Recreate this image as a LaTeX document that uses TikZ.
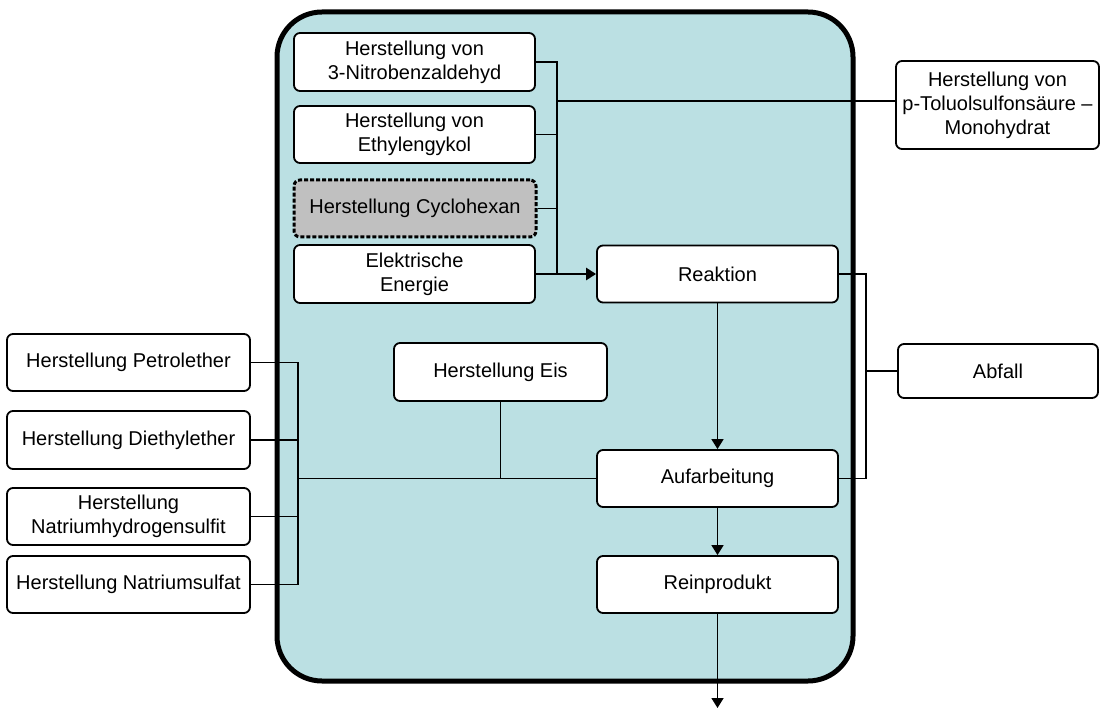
\documentclass[tikz,border=0pt]{standalone}
\usepackage{fontspec}
\setmainfont{Liberation Sans}
\usetikzlibrary{arrows.meta}
\definecolor{panel}{RGB}{187,224,227}
\definecolor{greybox}{RGB}{192,192,192}
\begin{document}
\begin{tikzpicture}[x=1pt,y=-1pt,
  box/.style={draw=black,line width=1.8pt,fill=white,rounded corners=6pt,
    inner sep=0pt,align=center,font=\fontsize{20}{24}\selectfont},
  conn/.style={draw=black,line width=1.6pt},
  flow/.style={conn,-{Triangle[length=10pt,width=12pt]}}]
\useasboundingbox (0,0) rectangle (1100,708);

% process frame
\draw[line width=5pt,fill=panel,rounded corners=45pt] (277,12) rectangle (853,681);

% inputs inside the frame
\node[box,minimum width=241,minimum height=58] (nitro) at (414.5,62) {Herstellung von\\3-Nitrobenzaldehyd};
\node[box,minimum width=241,minimum height=57] (ethyl) at (414.5,134.5) {Herstellung von\\Ethylengykol};
\node[box,minimum width=242,minimum height=57,fill=greybox,dashed,line width=3pt,dash pattern=on 4pt off 2pt] (cyclo) at (415,208.5) {Herstellung Cyclohexan};
\node[box,minimum width=241,minimum height=58] (elek) at (414.5,274) {Elektrische\\Energie};
\node[box,minimum width=213,minimum height=58] (eis) at (500.5,372) {Herstellung Eis};

% main steps
\node[box,minimum width=241,minimum height=57] (reakt) at (717.5,274) {Reaktion};
\node[box,minimum width=241,minimum height=57] (aufarb) at (717.5,478.5) {Aufarbeitung};
\node[box,minimum width=241,minimum height=57] (rein) at (717.5,584.5) {Reinprodukt};

% outside the frame, right
\node[box,minimum width=203,minimum height=88] (ptol) at (997.5,105) {Herstellung von\\p-Toluolsulfonsäure –\\Monohydrat};
\node[box,minimum width=200,minimum height=54] (abfall) at (998,371) {Abfall};

% outside the frame, left
\node[box,minimum width=243,minimum height=57] (petrol) at (128.5,362.5) {Herstellung Petrolether};
\node[box,minimum width=243,minimum height=58] (diethyl) at (128.5,440) {Herstellung Diethylether};
\node[box,minimum width=243,minimum height=57] (nahso) at (128.5,516.5) {Herstellung\\Natriumhydrogensulfit};
\node[box,minimum width=243,minimum height=57] (naso) at (128.5,584.5) {Herstellung Natriumsulfat};

% bus lines
\coordinate (topbus) at (557,0);
\coordinate (tolbus) at (557,101);
\coordinate (rbus) at (866,0);
\coordinate (lbus) at (298,0);
\coordinate (out) at (717.5,708);

% upper input bus
\draw[conn] (nitro.east) -- (nitro.east -| topbus) -- (elek.east -| topbus);
\draw[conn] (ethyl.east) -- (ethyl.east -| topbus);
\draw[conn] (cyclo.east) -- (cyclo.east -| topbus);
\draw[conn] (tolbus) -- (tolbus -| ptol.west);
\draw[flow,line width=2.6pt] (elek.east) -- (reakt.west);

% waste bus
\draw[conn] (reakt.east) -- (reakt.east -| rbus) -- (aufarb.east -| rbus) -- (aufarb.east);
\draw[conn] (abfall.west) -- (abfall.west -| rbus);

% lower input bus
\draw[conn] (petrol.east) -- (petrol.east -| lbus) -- (naso.east -| lbus) -- (naso.east);
\draw[conn] (diethyl.east) -- (diethyl.east -| lbus);
\draw[conn] (nahso.east) -- (nahso.east -| lbus);
\draw[conn] (aufarb.west -| lbus) -- (aufarb.west);
\draw[conn] (eis.south) -- (eis.south |- aufarb.west);

% main flow
\draw[flow] (reakt.south) -- (aufarb.north);
\draw[flow] (aufarb.south) -- (rein.north);
\draw[flow] (rein.south) -- (out);
\end{tikzpicture}
\end{document}
